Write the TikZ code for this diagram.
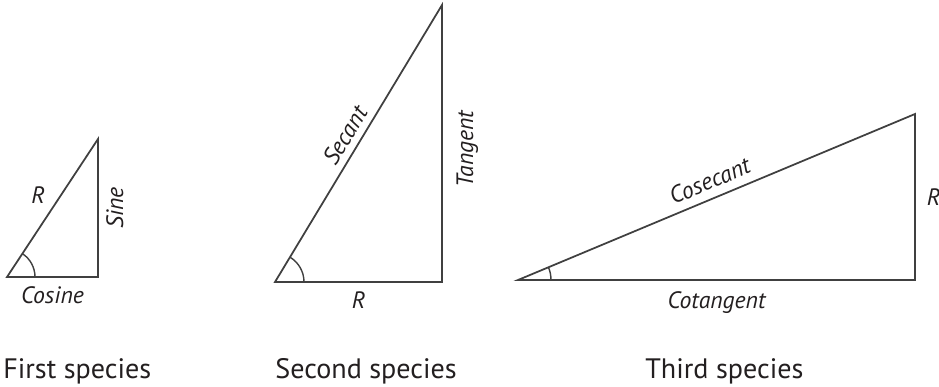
\documentclass[tikz,border=0pt]{standalone}
\usepackage{fontspec}
\setmainfont{PT Sans}
\usetikzlibrary{positioning}
\definecolor{edgegray}{RGB}{64,64,64}
\definecolor{inkblack}{RGB}{35,31,32}

\begin{document}
\begin{tikzpicture}[x=0.02cm,y=0.02cm,
  side/.style={draw=edgegray, line width=1pt, line join=miter},
  arcmark/.style={draw=edgegray, line width=0.8pt},
  lbl/.style={font=\fontsize{13.5}{15}\selectfont\itshape, text=inkblack, inner sep=0pt},
  caption/.style={font=\fontsize{16}{18}\selectfont, text=inkblack, anchor=base west, inner sep=0pt}]
  \useasboundingbox (0,0) rectangle (939,386);

  % first species
  \coordinate (a1) at (7,109);
  \coordinate (b1) at (98,109);
  \coordinate (c1) at (98,247);
  \draw[side] (a1) -- (b1) -- (c1) -- cycle;
  \draw[arcmark] (a1) ++(28,0) arc[start angle=0, end angle=56.6, radius=28];
  \path (a1) -- (b1) node[lbl, midway, below=5.5pt] (cos1) {Cosine};
  \path (b1) -- (c1) node[lbl, midway, sloped, below=4.5pt] (sin1) {Sine};
  \node[lbl] (rad1) at (38,191) {R};

  % second species
  \coordinate (a2) at (275,104);
  \coordinate (b2) at (442,104);
  \coordinate (c2) at (442,381);
  \draw[side] (a2) -- (b2) -- (c2) -- cycle;
  \draw[arcmark] (a2) ++(29,0) arc[start angle=0, end angle=58.9, radius=29];
  \path (a2) -- (b2) node[lbl, midway, below=5.5pt] (rad2) {R};
  \path (b2) -- (c2) node[lbl, pos=0.48, sloped, below=8pt] (tan2) {Tangent};
  \path (a2) -- (c2) node[lbl, midway, sloped, above=4pt] (sec2) {Secant};

  % third species
  \coordinate (a3) at (518,106);
  \coordinate (b3) at (915,106);
  \coordinate (c3) at (915,272);
  \draw[side] (a3) -- (b3) -- (c3) -- cycle;
  \draw[arcmark] (a3) ++(33,0) arc[start angle=0, end angle=22.7, radius=33];
  \path (a3) -- (b3) node[lbl, midway, below=6.5pt] (cot3) {Cotangent};
  \path (b3) -- (c3) node[lbl, midway, right=6.5pt] (rad3) {R};
  \path (a3) -- (c3) node[lbl, midway, sloped, above=5pt] (csc3) {Cosecant};

  % species names
  \node[caption] (first) at (3,8) {First species};
  \node[caption] (second) at (275,8) {Second species};
  \node[caption] (third) at (645,8) {Third species};
\end{tikzpicture}
\end{document}
